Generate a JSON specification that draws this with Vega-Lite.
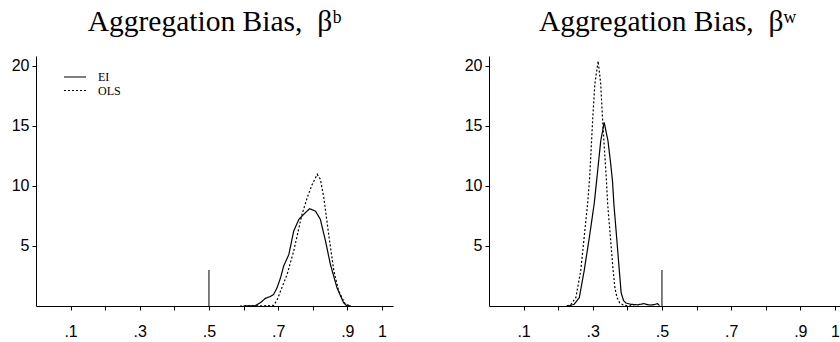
{
  "$schema": "https://vega.github.io/schema/vega-lite/v6.json",
  "background": "white",
  "padding": {"left": 11, "top": 6, "right": -6, "bottom": 0},
  "config": {
    "view": {"stroke": null},
    "font": "Liberation Sans",
    "axis": {
      "grid": false, "domainColor": "black", "tickColor": "black", "labelColor": "black",
      "labelFont": "Liberation Sans", "labelFontSize": 16, "tickSize": 4, "title": null,
      "domainWidth": 1, "tickWidth": 1
    },
    "title": {"font": "Liberation Serif", "fontSize": 29.5, "fontWeight": "normal", "color": "black", "baseline": "alphabetic", "offset": 19},
    "legend": {
      "orient": "none", "legendX": 32.5, "legendY": 14.5, "title": null,
      "symbolType": "M-2,0H2", "symbolSize": 121, "symbolStrokeWidth": 1.2, "symbolStrokeColor": "black",
      "labelFont": "Liberation Serif", "labelFontSize": 12, "labelColor": "black", "labelOffset": 16.5,
      "padding": 0, "rowPadding": 0.5, "symbolOffset": 0
    }
  },
  "datasets": {
    "curves": [
      {"panel": "b", "series": "EI", "x": 0.600, "y": 0},
      {"panel": "b", "series": "EI", "x": 0.634, "y": 0.02},
      {"panel": "b", "series": "EI", "x": 0.649, "y": 0.28},
      {"panel": "b", "series": "EI", "x": 0.663, "y": 0.64},
      {"panel": "b", "series": "EI", "x": 0.678, "y": 0.8},
      {"panel": "b", "series": "EI", "x": 0.687, "y": 0.97},
      {"panel": "b", "series": "EI", "x": 0.697, "y": 1.53},
      {"panel": "b", "series": "EI", "x": 0.707, "y": 2.36},
      {"panel": "b", "series": "EI", "x": 0.716, "y": 3.33},
      {"panel": "b", "series": "EI", "x": 0.731, "y": 4.3},
      {"panel": "b", "series": "EI", "x": 0.745, "y": 6.25},
      {"panel": "b", "series": "EI", "x": 0.760, "y": 7.22},
      {"panel": "b", "series": "EI", "x": 0.774, "y": 7.64},
      {"panel": "b", "series": "EI", "x": 0.791, "y": 8.11},
      {"panel": "b", "series": "EI", "x": 0.808, "y": 7.9},
      {"panel": "b", "series": "EI", "x": 0.822, "y": 7.22},
      {"panel": "b", "series": "EI", "x": 0.837, "y": 5.4},
      {"panel": "b", "series": "EI", "x": 0.851, "y": 3.47},
      {"panel": "b", "series": "EI", "x": 0.870, "y": 1.53},
      {"panel": "b", "series": "EI", "x": 0.889, "y": 0.28},
      {"panel": "b", "series": "EI", "x": 0.897, "y": 0.05},
      {"panel": "b", "series": "EI", "x": 0.910, "y": 0},
      {"panel": "b", "series": "OLS", "x": 0.590, "y": 0},
      {"panel": "b", "series": "OLS", "x": 0.660, "y": 0.02},
      {"panel": "b", "series": "OLS", "x": 0.687, "y": 0.05},
      {"panel": "b", "series": "OLS", "x": 0.697, "y": 0.5},
      {"panel": "b", "series": "OLS", "x": 0.707, "y": 1.25},
      {"panel": "b", "series": "OLS", "x": 0.726, "y": 2.64},
      {"panel": "b", "series": "OLS", "x": 0.745, "y": 4.58},
      {"panel": "b", "series": "OLS", "x": 0.760, "y": 6.5},
      {"panel": "b", "series": "OLS", "x": 0.769, "y": 7.64},
      {"panel": "b", "series": "OLS", "x": 0.784, "y": 9.03},
      {"panel": "b", "series": "OLS", "x": 0.798, "y": 10.1},
      {"panel": "b", "series": "OLS", "x": 0.813, "y": 10.97},
      {"panel": "b", "series": "OLS", "x": 0.822, "y": 10.56},
      {"panel": "b", "series": "OLS", "x": 0.832, "y": 9.03},
      {"panel": "b", "series": "OLS", "x": 0.846, "y": 5.97},
      {"panel": "b", "series": "OLS", "x": 0.861, "y": 2.92},
      {"panel": "b", "series": "OLS", "x": 0.875, "y": 1.25},
      {"panel": "b", "series": "OLS", "x": 0.894, "y": 0.14},
      {"panel": "b", "series": "OLS", "x": 0.910, "y": 0},
      {"panel": "w", "series": "EI", "x": 0.225, "y": 0},
      {"panel": "w", "series": "EI", "x": 0.232, "y": 0.02},
      {"panel": "w", "series": "EI", "x": 0.246, "y": 0.14},
      {"panel": "w", "series": "EI", "x": 0.261, "y": 0.69},
      {"panel": "w", "series": "EI", "x": 0.275, "y": 2.92},
      {"panel": "w", "series": "EI", "x": 0.290, "y": 5.7},
      {"panel": "w", "series": "EI", "x": 0.304, "y": 8.5},
      {"panel": "w", "series": "EI", "x": 0.311, "y": 10.4},
      {"panel": "w", "series": "EI", "x": 0.316, "y": 11.8},
      {"panel": "w", "series": "EI", "x": 0.323, "y": 13.75},
      {"panel": "w", "series": "EI", "x": 0.333, "y": 15.3},
      {"panel": "w", "series": "EI", "x": 0.344, "y": 13.75},
      {"panel": "w", "series": "EI", "x": 0.352, "y": 11.8},
      {"panel": "w", "series": "EI", "x": 0.357, "y": 10.4},
      {"panel": "w", "series": "EI", "x": 0.361, "y": 8.5},
      {"panel": "w", "series": "EI", "x": 0.369, "y": 5.7},
      {"panel": "w", "series": "EI", "x": 0.376, "y": 3.2},
      {"panel": "w", "series": "EI", "x": 0.382, "y": 1.1},
      {"panel": "w", "series": "EI", "x": 0.389, "y": 0.45},
      {"panel": "w", "series": "EI", "x": 0.396, "y": 0.25},
      {"panel": "w", "series": "EI", "x": 0.410, "y": 0.14},
      {"panel": "w", "series": "EI", "x": 0.430, "y": 0.1},
      {"panel": "w", "series": "EI", "x": 0.448, "y": 0.2},
      {"panel": "w", "series": "EI", "x": 0.460, "y": 0.1},
      {"panel": "w", "series": "EI", "x": 0.468, "y": 0.08},
      {"panel": "w", "series": "EI", "x": 0.478, "y": 0.12},
      {"panel": "w", "series": "EI", "x": 0.487, "y": 0.2},
      {"panel": "w", "series": "EI", "x": 0.493, "y": 0.03},
      {"panel": "w", "series": "OLS", "x": 0.225, "y": 0},
      {"panel": "w", "series": "OLS", "x": 0.237, "y": 0.14},
      {"panel": "w", "series": "OLS", "x": 0.251, "y": 0.69},
      {"panel": "w", "series": "OLS", "x": 0.265, "y": 2.9},
      {"panel": "w", "series": "OLS", "x": 0.275, "y": 5.7},
      {"panel": "w", "series": "OLS", "x": 0.285, "y": 8.5},
      {"panel": "w", "series": "OLS", "x": 0.291, "y": 10.7},
      {"panel": "w", "series": "OLS", "x": 0.295, "y": 12.9},
      {"panel": "w", "series": "OLS", "x": 0.300, "y": 15.7},
      {"panel": "w", "series": "OLS", "x": 0.306, "y": 18.5},
      {"panel": "w", "series": "OLS", "x": 0.3155, "y": 20.4},
      {"panel": "w", "series": "OLS", "x": 0.323, "y": 18.5},
      {"panel": "w", "series": "OLS", "x": 0.328, "y": 15.7},
      {"panel": "w", "series": "OLS", "x": 0.334, "y": 12.9},
      {"panel": "w", "series": "OLS", "x": 0.339, "y": 10.7},
      {"panel": "w", "series": "OLS", "x": 0.343, "y": 8.5},
      {"panel": "w", "series": "OLS", "x": 0.351, "y": 5.7},
      {"panel": "w", "series": "OLS", "x": 0.358, "y": 3.2},
      {"panel": "w", "series": "OLS", "x": 0.364, "y": 1.5},
      {"panel": "w", "series": "OLS", "x": 0.370, "y": 0.7},
      {"panel": "w", "series": "OLS", "x": 0.378, "y": 0.25},
      {"panel": "w", "series": "OLS", "x": 0.388, "y": 0.08},
      {"panel": "w", "series": "OLS", "x": 0.400, "y": 0.02},
      {"panel": "w", "series": "OLS", "x": 0.420, "y": 0}
    ],
    "rules": [
      {"panel": "b", "x": 0.5, "y0": 0, "y1": 3},
      {"panel": "w", "x": 0.5, "y0": 0, "y1": 3}
    ]
  },
  "spacing": 71,
  "resolve": {"scale": {"strokeDash": "independent"}},
  "hconcat": [
    {
      "width": 357, "height": 250,
      "title": "Aggregation Bias,\u2002βᵇ",
      "resolve": {"axis": {"x": "independent"}},
      "layer": [
        {
          "data": {"name": "curves"},
          "transform": [{"filter": "datum.panel == 'b'"}],
          "mark": {"type": "line", "color": "black", "strokeWidth": 1.2},
          "encoding": {
            "x": {"field": "x", "type": "quantitative",
              "scale": {"domain": [0, 1.032], "nice": false, "zero": false},
              "axis": {"orient": "bottom", "values": [0.1, 0.3, 0.5, 0.7, 0.9, 1], "labelPadding": 13, "labelFlush": false, "labelOverlap": false,
                "labelExpr": "datum.value > 0.95 ? '1' : replace(format(datum.value, '.1f'), '0.', '.')"}},
            "y": {"field": "y", "type": "quantitative",
              "scale": {"domain": [0, 20.83], "nice": false},
              "axis": {"values": [5, 10, 15, 20], "labelPadding": 3}},
            "strokeDash": {"field": "series", "type": "nominal",
              "scale": {"domain": ["EI", "OLS"], "range": [[1, 0], [2, 2]]}}
          }
        },
        {
          "data": {"name": "rules"},
          "transform": [{"filter": "datum.panel == 'b'"}],
          "mark": {"type": "rule", "color": "black", "strokeWidth": 1},
          "encoding": {
            "x": {"field": "x", "type": "quantitative",
              "axis": {"orient": "bottom", "values": [0.2, 0.4, 0.6, 0.8], "labels": false, "domain": false}},
            "y": {"field": "y0", "type": "quantitative"},
            "y2": {"field": "y1"}
          }
        }
      ]
    },
    {
      "width": 357, "height": 250,
      "title": "Aggregation Bias,\u2002βʷ",
      "resolve": {"axis": {"x": "independent"}},
      "layer": [
        {
          "data": {"name": "curves"},
          "transform": [{"filter": "datum.panel == 'w'"}],
          "mark": {"type": "line", "color": "black", "strokeWidth": 1.2},
          "encoding": {
            "x": {"field": "x", "type": "quantitative",
              "scale": {"domain": [0, 1.032], "nice": false, "zero": false},
              "axis": {"orient": "bottom", "values": [0.1, 0.3, 0.5, 0.7, 0.9, 1], "labelPadding": 13, "labelFlush": false, "labelOverlap": false,
                "labelExpr": "datum.value > 0.95 ? '1' : replace(format(datum.value, '.1f'), '0.', '.')"}},
            "y": {"field": "y", "type": "quantitative",
              "scale": {"domain": [0, 20.83], "nice": false},
              "axis": {"values": [5, 10, 15, 20], "labelPadding": 3}},
            "strokeDash": {"field": "series", "type": "nominal",
              "scale": {"domain": ["EI", "OLS"], "range": [[1, 0], [2, 2]]}, "legend": null}
          }
        },
        {
          "data": {"name": "rules"},
          "transform": [{"filter": "datum.panel == 'w'"}],
          "mark": {"type": "rule", "color": "black", "strokeWidth": 1},
          "encoding": {
            "x": {"field": "x", "type": "quantitative",
              "axis": {"orient": "bottom", "values": [0.2, 0.4, 0.6, 0.8], "labels": false, "domain": false}},
            "y": {"field": "y0", "type": "quantitative"},
            "y2": {"field": "y1"}
          }
        }
      ]
    }
  ]
}
